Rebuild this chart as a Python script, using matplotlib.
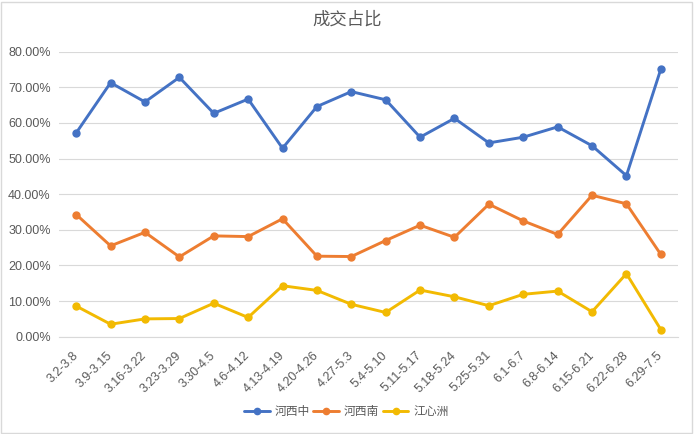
import matplotlib
matplotlib.use("Agg")
import matplotlib.pyplot as plt
from matplotlib.ticker import PercentFormatter
from matplotlib.patches import Rectangle
from matplotlib import font_manager

plt.rcParams['font.family'] = ['Noto Sans CJK SC', 'DejaVu Sans']

avail = {f.name for f in font_manager.fontManager.ttflist}
tick_font = 'Liberation Sans Narrow' if 'Liberation Sans Narrow' in avail else 'Liberation Sans'

categories = ["3.2-3.8", "3.9-3.15", "3.16-3.22", "3.23-3.29", "3.30-4.5", "4.6-4.12",
              "4.13-4.19", "4.20-4.26", "4.27-5.3", "5.4-5.10", "5.11-5.17", "5.18-5.24",
              "5.25-5.31", "6.1-6.7", "6.8-6.14", "6.15-6.21", "6.22-6.28", "6.29-7.5"]
hexi_zhong = [57.2, 71.3, 65.9, 72.8, 62.7, 66.7, 52.9, 64.6, 68.8, 66.5, 56.0, 61.3,
              54.4, 56.0, 58.9, 53.6, 45.2, 75.1]
hexi_nan = [34.3, 25.5, 29.3, 22.4, 28.3, 28.1, 33.1, 22.6, 22.5, 27.0, 31.3, 27.9,
            37.2, 32.5, 28.7, 39.7, 37.3, 23.1]
jiangxinzhou = [8.6, 3.5, 5.0, 5.1, 9.4, 5.4, 14.3, 13.0, 9.1, 6.8, 13.1, 11.2,
                8.7, 11.9, 12.8, 7.0, 17.7, 2.0]
series_names = ["河西中", "河西南", "江心洲"]
colors = ["#4472C4", "#ED7D31", "#F2BA02"]

fig = plt.figure(figsize=(6.94, 4.34), dpi=100)
ax = fig.add_axes([59/694, 1-336.7/434, 619/694, (336.7-51.7)/434])

x = list(range(len(categories)))
for vals, name, c in zip([hexi_zhong, hexi_nan, jiangxinzhou], series_names, colors):
    ax.plot(x, vals, color=c, lw=2.1, marker='o', ms=5, label=name, solid_capstyle='round')

ax.set_xlim(-0.5, len(categories) - 0.5)
ax.set_ylim(0, 80)
ax.set_yticks(range(0, 81, 10))
ax.yaxis.set_major_formatter(PercentFormatter(decimals=2))
ax.grid(axis='y', color='#D9D9D9', lw=0.8)
ax.set_axisbelow(True)
for s in ['top', 'right', 'left']:
    ax.spines[s].set_visible(False)
ax.spines['bottom'].set_color('#D9D9D9')
ax.tick_params(axis='both', length=0, colors='#595959')
ax.tick_params(axis='y', pad=6)
ax.set_xticks(x)
ax.set_xticklabels(categories, rotation=45, ha='right', va='center', rotation_mode='anchor')
ax.tick_params(axis='x', pad=12)
for lab in ax.get_xticklabels() + ax.get_yticklabels():
    lab.set_fontfamily(tick_font)
    lab.set_fontsize(9)

fig.text(0.5, 1-20/434, "成交占比", ha='center', va='center', fontsize=12.5, color='#595959')

ax.legend(loc='center', bbox_to_anchor=(346/694, 1-412/434), bbox_transform=fig.transFigure,
          ncol=3, frameon=False, fontsize=8.5, labelcolor='#595959', handlelength=2.2,
          columnspacing=0.3, handletextpad=0.4, markerscale=0.9)

fig.patches.append(Rectangle((1/694, 1/434), 691/694, 431/434, transform=fig.transFigure,
                             fill=False, edgecolor='#D9D9D9', lw=1))

fig.savefig("out.png", dpi=100)
